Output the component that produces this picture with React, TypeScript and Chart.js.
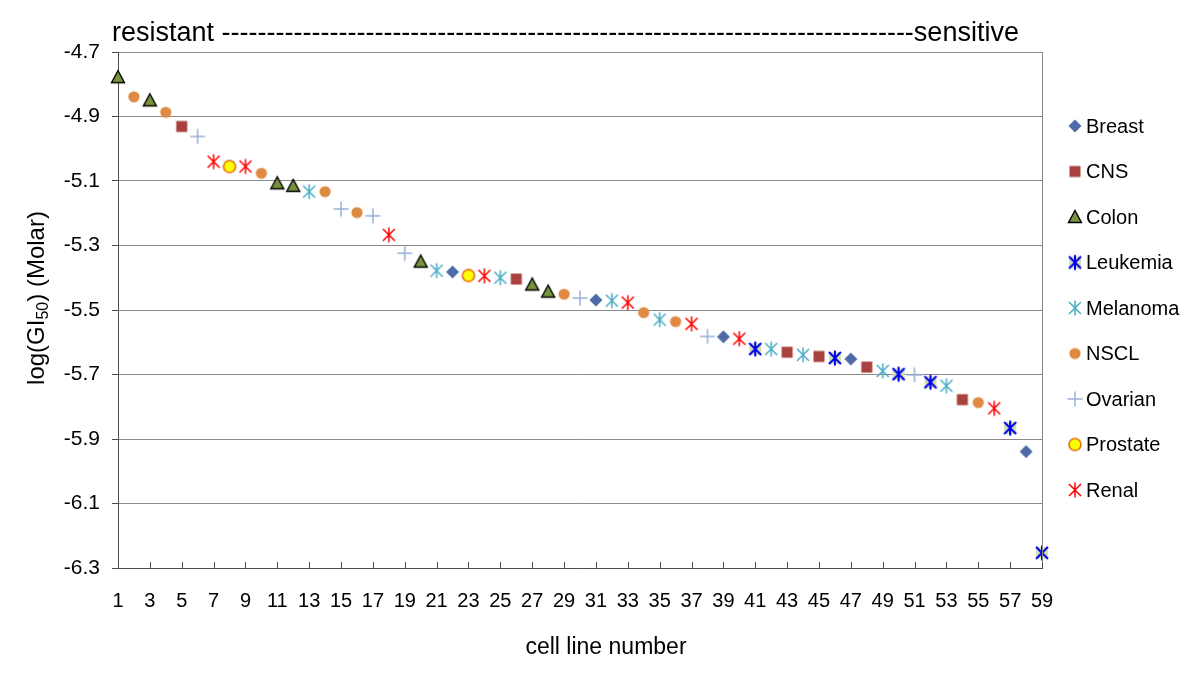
import React, { useEffect, useRef } from "react";
import { Chart, registerables } from "chart.js";

Chart.register(...registerables);

// ---- data (cell line number, log(GI50)) ----
const breastX = [22, 31, 39, 47, 58];
const breastY = [-5.382, -5.469, -5.583, -5.652, -5.939];

const cnsX = [5, 26, 43, 45, 48, 54];
const cnsY = [-4.931, -5.404, -5.631, -5.644, -5.677, -5.778];

const colonX = [1, 3, 11, 12, 20, 27, 28];
const colonY = [-4.778, -4.85, -5.107, -5.115, -5.35, -5.421, -5.443];

const leukemiaX = [41, 46, 50, 52, 57, 59];
const leukemiaY = [-5.621, -5.649, -5.699, -5.724, -5.866, -6.253];

const melanomaX = [13, 21, 25, 32, 35, 42, 44, 49, 53];
const melanomaY = [-5.133, -5.378, -5.4, -5.471, -5.53, -5.621, -5.639, -5.689, -5.735];

const nsclX = [2, 4, 10, 14, 16, 29, 34, 36, 55];
const nsclY = [-4.839, -4.887, -5.076, -5.133, -5.198, -5.451, -5.508, -5.536, -5.787];

const ovarianX = [6, 15, 17, 19, 30, 38, 51];
const ovarianY = [-4.962, -5.187, -5.208, -5.324, -5.463, -5.582, -5.701];

const prostateX = [8, 23];
const prostateY = [-5.055, -5.393];

const renalX = [7, 9, 18, 24, 33, 37, 40, 56];
const renalY = [-5.04, -5.055, -5.267, -5.394, -5.477, -5.543, -5.589, -5.805];

const seriesNames = ["Breast", "CNS", "Colon", "Leukemia", "Melanoma", "NSCL", "Ovarian", "Prostate", "Renal"];
const xTickValues = [1, 3, 5, 7, 9, 11, 13, 15, 17, 19, 21, 23, 25, 27, 29, 31, 33, 35, 37, 39, 41, 43, 45, 47, 49, 51, 53, 55, 57, 59];
const yTickValues = [-6.3, -6.1, -5.9, -5.7, -5.5, -5.3, -5.1, -4.9, -4.7];

const FONT = '"Liberation Sans", Arial, sans-serif';

type Kind = "diamond" | "square" | "triangle" | "leuk" | "star" | "circle" | "plus" | "prostate";

function makeMarker(kind: Kind, color: string): HTMLCanvasElement {
  const c = document.createElement("canvas");
  c.width = 24;
  c.height = 24;
  const g = c.getContext("2d")!;
  const cx = 12, cy = 12;
  g.lineCap = "butt";
  if (kind === "diamond") {
    g.beginPath();
    g.moveTo(cx, cy - 6.5);
    g.lineTo(cx + 6.5, cy);
    g.lineTo(cx, cy + 6.5);
    g.lineTo(cx - 6.5, cy);
    g.closePath();
    g.fillStyle = color;
    g.fill();
  } else if (kind === "square") {
    g.fillStyle = color;
    g.fillRect(cx - 5.5, cy - 5.5, 11, 11);
  } else if (kind === "triangle") {
    g.beginPath();
    g.moveTo(cx, cy - 6.5);
    g.lineTo(cx + 6.5, cy + 5.5);
    g.lineTo(cx - 6.5, cy + 5.5);
    g.closePath();
    g.fillStyle = color;
    g.fill();
    g.strokeStyle = "#000";
    g.lineWidth = 1.4;
    g.stroke();
  } else if (kind === "star" || kind === "leuk") {
    if (kind === "leuk") {
      g.fillStyle = "#D3E2B6";
      g.fillRect(cx - 6, cy - 6, 12, 12);
    }
    g.strokeStyle = color;
    g.lineWidth = kind === "leuk" ? 2 : 1.5;
    g.beginPath();
    g.moveTo(cx - 6, cy - 6);
    g.lineTo(cx + 6, cy + 6);
    g.moveTo(cx + 6, cy - 6);
    g.lineTo(cx - 6, cy + 6);
    g.moveTo(cx, cy - 7.5);
    g.lineTo(cx, cy + 7.5);
    g.stroke();
  } else if (kind === "circle") {
    g.beginPath();
    g.arc(cx, cy, 5.6, 0, Math.PI * 2);
    g.fillStyle = color;
    g.fill();
  } else if (kind === "plus") {
    g.strokeStyle = color;
    g.lineWidth = 1.5;
    g.beginPath();
    g.moveTo(cx - 7.5, cy);
    g.lineTo(cx + 7.5, cy);
    g.moveTo(cx, cy - 7.5);
    g.lineTo(cx, cy + 7.5);
    g.stroke();
  } else if (kind === "prostate") {
    g.beginPath();
    g.arc(cx, cy, 6, 0, Math.PI * 2);
    g.fillStyle = "#FFFF00";
    g.fill();
    g.strokeStyle = color;
    g.lineWidth = 1.6;
    g.stroke();
  }
  return c;
}

const seriesStyle: { kind: Kind; color: string }[] = [
  { kind: "diamond", color: "#4E6BA8" },
  { kind: "square", color: "#A9423F" },
  { kind: "triangle", color: "#77933C" },
  { kind: "leuk", color: "#0000F0" },
  { kind: "star", color: "#4BACC6" },
  { kind: "circle", color: "#DE8A43" },
  { kind: "plus", color: "#98B0D8" },
  { kind: "prostate", color: "#E46C0A" },
  { kind: "star", color: "#FF0000" },
];

const seriesX = [breastX, cnsX, colonX, leukemiaX, melanomaX, nsclX, ovarianX, prostateX, renalX];
const seriesY = [breastY, cnsY, colonY, leukemiaY, melanomaY, nsclY, ovarianY, prostateY, renalY];

export default function App() {
  const ref = useRef<HTMLCanvasElement | null>(null);

  useEffect(() => {
    const canvas = ref.current;
    if (!canvas) return;
    const markers = seriesStyle.map((s) => makeMarker(s.kind, s.color));

    const datasets = seriesNames.map((name, i) => ({
      label: name,
      data: seriesX[i].map((x, j) => ({ x, y: seriesY[i][j] })),
      pointStyle: markers[i] as any,
      pointRadius: 7,
      showLine: false,
      clip: false as any,
      backgroundColor: seriesStyle[i].color,
      borderColor: seriesStyle[i].color,
    }));

    const decor = {
      id: "decor",
      afterDraw(chart: any) {
        const ctx = chart.ctx as CanvasRenderingContext2D;
        const a = chart.chartArea;
        const xs = chart.scales.x;
        ctx.save();
        // right border of plot
        ctx.strokeStyle = "#8a8a8a";
        ctx.lineWidth = 1;
        ctx.beginPath();
        ctx.moveTo(Math.round(a.right) + 0.5, a.top);
        ctx.lineTo(Math.round(a.right) + 0.5, a.bottom);
        ctx.stroke();
        // inner tick marks on x axis
        ctx.strokeStyle = "#4d4d4d";
        ctx.beginPath();
        xTickValues.forEach((v) => {
          const px = Math.round(xs.getPixelForValue(v)) + 0.5;
          ctx.moveTo(px, a.bottom);
          ctx.lineTo(px, a.bottom - 6);
        });
        ctx.stroke();

        // header text
        ctx.fillStyle = "#000";
        ctx.font = `27px ${FONT}`;
        ctx.textBaseline = "alphabetic";
        ctx.textAlign = "left";
        const target = 911;
        let dashes = "";
        while (ctx.measureText("resistant " + dashes + "-sensitive").width <= target) dashes += "-";
        ctx.fillText("resistant " + dashes + "sensitive", 112, 41);

        // x axis title
        ctx.font = `23px ${FONT}`;
        ctx.textAlign = "center";
        ctx.textBaseline = "middle";
        ctx.fillText("cell line number", 606, 648);

        // y axis title with subscript
        ctx.save();
        ctx.translate(36, 298);
        ctx.rotate(-Math.PI / 2);
        const big = `24px ${FONT}`;
        const small = `16px ${FONT}`;
        const p1 = "log(GI";
        const p2 = "50";
        const p3 = ") (Molar)";
        ctx.font = big;
        const w1 = ctx.measureText(p1).width;
        const w3 = ctx.measureText(p3).width;
        ctx.font = small;
        const w2 = ctx.measureText(p2).width;
        const total = w1 + w2 + w3;
        let xx = -total / 2;
        ctx.textAlign = "left";
        ctx.textBaseline = "alphabetic";
        ctx.font = big;
        ctx.fillText(p1, xx, 8);
        xx += w1;
        ctx.font = small;
        ctx.fillText(p2, xx, 12);
        xx += w2;
        ctx.font = big;
        ctx.fillText(p3, xx, 8);
        ctx.restore();

        // legend
        ctx.font = `20px ${FONT}`;
        ctx.textAlign = "left";
        ctx.textBaseline = "middle";
        seriesNames.forEach((name, i) => {
          const y = 126 + i * 45.5;
          const m = markers[i];
          ctx.drawImage(m, 1075 - m.width / 2, y - m.height / 2);
          ctx.fillStyle = "#000";
          ctx.fillText(name, 1086, y + 1);
        });
        ctx.restore();
      },
    };

    const chart = new Chart(canvas, {
      type: "scatter",
      data: { datasets: datasets as any },
      options: {
        responsive: false,
        animation: false,
        layout: { padding: { top: 52, right: 158, left: 0, bottom: 0 } },
        plugins: {
          legend: { display: false },
          tooltip: { enabled: false },
          title: { display: false },
        },
        scales: {
          x: {
            type: "linear",
            min: 1,
            max: 59,
            afterFit: (s: any) => {
              s.height = 124;
            },
            afterBuildTicks: (s: any) => {
              s.ticks = xTickValues.map((v) => ({ value: v }));
            },
            grid: { display: true, drawOnChartArea: false, drawTicks: false, color: "rgba(0,0,0,0)" },
            border: { display: true, color: "#4d4d4d", width: 1 },
            ticks: {
              font: { size: 20, family: FONT },
              color: "#000",
              padding: 21,
              maxRotation: 0,
              autoSkip: false,
              callback: (v: any) => String(v),
            },
          },
          y: {
            type: "linear",
            min: -6.3,
            max: -4.7,
            afterFit: (s: any) => {
              s.width = 118;
            },
            afterBuildTicks: (s: any) => {
              s.ticks = yTickValues.map((v) => ({ value: v }));
            },
            grid: { color: "#8a8a8a", tickLength: 6, tickColor: "#4d4d4d", lineWidth: 1 },
            border: { display: true, color: "#4d4d4d", width: 1 },
            ticks: {
              font: { size: 21, family: FONT },
              color: "#000",
              padding: 12,
              callback: (v: any) => Number(v).toFixed(1),
            },
          },
        },
      },
      plugins: [decor],
    });
    return () => chart.destroy();
  }, []);

  return (
    <div style={{ position: "absolute", left: 0, top: 0, width: 1200, height: 692, background: "#fff" }}>
      <canvas ref={ref} width={1200} height={692} />
    </div>
  );
}
